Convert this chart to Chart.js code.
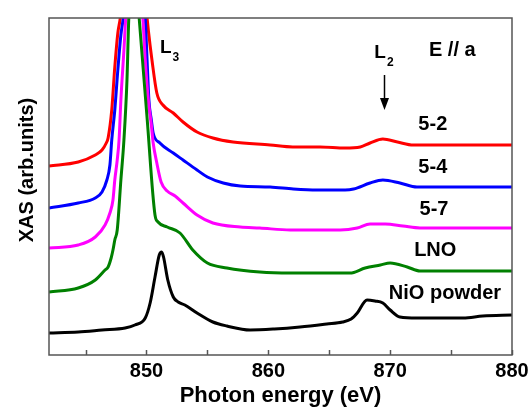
<!DOCTYPE html>
<html>
<head>
<meta charset="utf-8">
<script src="https://cdn.jsdelivr.net/npm/chart.js@4.4.1/dist/chart.umd.min.js"></script>
<style>
  body { margin: 0; background: #fff; }
  canvas { display: block; }
</style>
</head>
<body>
<canvas id="xas" width="529" height="408"></canvas>
<script>
// Ni L-edge XAS, E // a, curves offset vertically (arb. units)
const tickVals = [845, 850, 855, 860, 865, 870, 875, 880]

// 5-2 (red)
const e52 = [842.0, 844.4, 845.8, 846.35, 846.7, 846.85, 847.15, 847.4, 847.65, 847.85, 849.0,
  850.05, 850.15, 850.45, 850.85, 851.35, 852.2, 853.0, 854.15, 855.45, 857.1, 860.15, 862.0,
  864.25, 866.3, 867.55, 868.35, 869.4, 870.6, 871.9, 880.0]
const xas52 = [189, 193, 200, 205, 212, 217, 245, 288, 322, 337, 480,
  337, 325, 295, 262, 250, 242, 233, 223, 217, 213, 210, 208,
  208, 207, 208, 212, 216, 213, 210, 210]

// 5-4 (blue)
const e54 = [842.0, 844.4, 845.8, 846.35, 846.75, 847.0, 847.15, 847.4, 847.65, 847.9, 848.1, 849.0,
  849.9, 850.05, 850.2, 850.4, 850.55, 851.1, 852.2, 853.0, 854.15, 855.0, 856.3, 857.7, 860.15,
  862.05, 864.0, 866.3, 867.0, 868.35, 869.4, 870.8, 872.2, 880.0]
const xas54 = [147, 152, 157, 163, 175, 190, 215, 245, 285, 320, 337, 440,
  337, 295, 255, 235, 222, 212, 202, 195, 185, 178, 172, 169, 168,
  166, 165, 165, 166, 172, 175, 172, 168, 168]

// 5-7 (magenta)
const e57 = [842.0, 844.4, 845.8, 846.6, 847.0, 847.25, 847.4, 847.6, 847.75, 847.9, 848.15, 848.3, 849.0,
  849.7, 849.9, 850.15, 850.4, 850.55, 850.85, 851.2, 851.7, 852.35, 853.0, 854.15, 855.45, 857.7,
  859.3, 861.8, 865.9, 867.3, 868.35, 869.6, 871.05, 872.45, 880.0]
const xas57 = [107, 110, 118, 130, 142, 155, 175, 195, 215, 255, 305, 337, 420,
  337, 295, 255, 230, 212, 192, 173, 164, 159, 152, 140, 132, 128,
  127, 125, 125, 127, 131, 131, 129, 127, 127]

// LNO (green)
const eLNO = [842.0, 844.4, 845.8, 846.6, 846.85, 847.1, 847.25, 847.4, 847.6, 847.9, 848.15, 848.4, 848.55, 849.0,
  849.4, 850.05, 850.7, 850.95, 851.7, 852.75, 853.8, 855.0, 856.6, 859.3, 861.8, 866.7, 867.95,
  869.2, 870.0, 871.4, 872.45, 880.0]
const xasLNO = [63, 67, 75, 85, 88, 97, 105, 115, 125, 175, 215, 275, 337, 400,
  337, 237, 140, 133, 128, 122, 105, 92, 87, 83, 82, 82, 87,
  90, 92, 88, 84, 84]

// NiO powder (black)
const eNiO = [842.0, 844.4, 846.35, 848.25, 849.05, 849.9, 850.3, 850.7, 851.05, 851.25, 851.4, 851.75,
  852.2, 852.6, 853.15, 854.15, 855.45, 856.6, 858.5, 860.5, 862.6, 864.8, 866.1, 866.8, 867.3, 868.1,
  868.75, 869.4, 870.0, 870.8, 872.2, 876.0, 877.6, 880.0]
const xasNiO = [22, 23, 25, 27, 30, 37, 52, 78, 100, 103, 98, 75,
  58, 53, 50, 42, 33, 29, 25, 26, 28, 31, 33, 36, 42, 55,
  54, 52, 45, 38, 37, 37, 39, 40]

// curve labels on the right
const curveNames = ['5-2', '5-4', '5-7', 'LNO', 'NiO powder']
const curveNameE = [873.5, 873.5, 873.6, 873.7, 874.5]
const curveNameY = [231, 188, 146, 105, 62]

const toXY = (xs, ys) => xs.map((x, i) => ({ x: x, y: ys[i] }))

const FONT = "'Liberation Sans', Arial, sans-serif"
const frameColor = '#555'

const decorations = {
  id: 'decorations',
  afterDatasetsDraw(chart) {
    const { ctx, chartArea: a, scales: { x, y } } = chart
    ctx.save()
    // frame
    ctx.strokeStyle = frameColor
    ctx.lineWidth = 1.5
    ctx.strokeRect(a.left, a.top, a.right - a.left, a.bottom - a.top)
    // inward ticks on the energy axis
    tickVals.forEach(v => {
      const px = Math.round(x.getPixelForValue(v)) + 0.5
      ctx.beginPath()
      ctx.moveTo(px, a.bottom)
      ctx.lineTo(px, a.bottom - 5)
      ctx.stroke()
    })
    ctx.fillStyle = '#000'
    // y title, sits a bit above the middle of the axis as in the original
    ctx.save()
    ctx.translate(27, y.getPixelForValue(185))
    ctx.rotate(-Math.PI / 2)
    ctx.textAlign = 'center'
    ctx.textBaseline = 'middle'
    ctx.font = 'bold 20px ' + FONT
    ctx.fillText('XAS (arb.units)', 0, 0)
    ctx.restore()

    ctx.textAlign = 'center'
    ctx.textBaseline = 'middle'
    ctx.font = 'bold 20px ' + FONT
    curveNames.forEach((t, i) => {
      ctx.fillText(t, x.getPixelForValue(curveNameE[i]), y.getPixelForValue(curveNameY[i]))
    })
    ctx.fillText('E // a', x.getPixelForValue(875.1), y.getPixelForValue(305))
    // edge labels with subscripts
    const edge = (main, sub, e, v) => {
      const px = x.getPixelForValue(e), py = y.getPixelForValue(v)
      ctx.textAlign = 'left'
      ctx.textBaseline = 'alphabetic'
      ctx.font = 'bold 19px ' + FONT
      ctx.fillText(main, px, py)
      const w = ctx.measureText(main).width
      ctx.font = 'bold 12px ' + FONT
      ctx.fillText(sub, px + w + 1, py + 8)
    }
    edge('L', '3', 851.1, 302)
    edge('L', '2', 868.7, 297)
    // arrow to L2
    const ax = Math.round(x.getPixelForValue(869.5)) + 0.5
    const y0 = y.getPixelForValue(280), y1 = y.getPixelForValue(245)
    ctx.strokeStyle = '#000'
    ctx.lineWidth = 1.5
    ctx.beginPath()
    ctx.moveTo(ax, y0)
    ctx.lineTo(ax, y1 - 10)
    ctx.stroke()
    ctx.beginPath()
    ctx.moveTo(ax - 4.5, y1 - 12)
    ctx.lineTo(ax + 4.5, y1 - 12)
    ctx.lineTo(ax, y1)
    ctx.closePath()
    ctx.fill()
    ctx.restore()
  }
}

const line = (label, xs, ys, color) => ({
  label: label,
  data: toXY(xs, ys),
  borderColor: color,
  borderWidth: 3,
  pointRadius: 0,
  cubicInterpolationMode: 'monotone',
  fill: false,
  clip: 0
})

new Chart(document.getElementById('xas'), {
  type: 'line',
  data: {
    datasets: [
      line('NiO powder', eNiO, xasNiO, '#000000'),
      line('LNO', eLNO, xasLNO, '#008000'),
      line('5-7', e57, xas57, '#ff00ff'),
      line('5-4', e54, xas54, '#0000ff'),
      line('5-2', e52, xas52, '#ff0000')
    ]
  },
  options: {
    responsive: false,
    animation: false,
    devicePixelRatio: 1,
    layout: { padding: { top: 18, right: 17, left: 0, bottom: 0 } },
    plugins: { legend: { display: false }, tooltip: { enabled: false } },
    scales: {
      x: {
        type: 'linear',
        min: 842,
        max: 880,
        grid: { display: false },
        border: { display: false },
        afterBuildTicks: s => { s.ticks = tickVals.map(v => ({ value: v })) },
        afterFit: s => { s.height = 53 },
        ticks: {
          autoSkip: false,
          maxRotation: 0,
          padding: -4,
          color: '#000',
          font: { family: FONT, size: 20, weight: 'bold' },
          callback: v => (v % 10 === 0 ? String(v) : '')
        },
        title: {
          display: true,
          text: 'Photon energy (eV)',
          color: '#000',
          font: { family: FONT, size: 22, weight: 'bold', lineHeight: 1.1 },
          padding: { top: 0, bottom: 0 }
        }
      },
      y: {
        min: 0,
        max: 337,
        grid: { display: false },
        border: { display: false },
        ticks: { display: false },
        afterFit: s => { s.width = 49 },
        title: { display: false }
      }
    }
  },
  plugins: [decorations]
})
</script>
</body>
</html>
